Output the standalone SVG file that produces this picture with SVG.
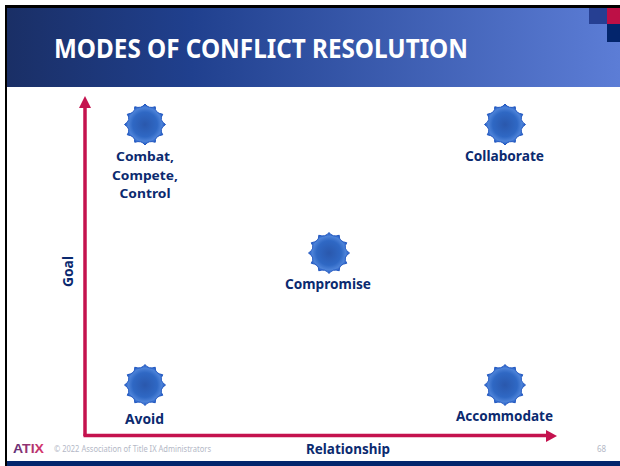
<svg xmlns="http://www.w3.org/2000/svg" width="620" height="466" viewBox="0 0 620 466">
<style>
.lbl{font-family:"Noto Sans","Liberation Sans",sans-serif;font-weight:700;font-size:14.500px;fill:#0b2a6f;text-anchor:middle}
.tight{font-size:13.200px}
.foot{font-family:"Noto Sans","Liberation Sans",sans-serif;font-size:8px;fill:#b4b8c6}
.ax{stroke:#c4124e;stroke-width:3.500;fill:none}
</style>
<defs>
<linearGradient id="hd" x1="0" x2="1" y1="0" y2="0"><stop offset="0" stop-color="#1a2f66"/><stop offset="0.3" stop-color="#20408e"/><stop offset="1" stop-color="#5c7dd6"/></linearGradient>
<linearGradient id="lg" x1="0" x2="1" y1="0" y2="0"><stop offset="0" stop-color="#5a2f78"/><stop offset="1" stop-color="#e0356a"/></linearGradient>
<radialGradient id="st"><stop offset="0" stop-color="#2a58ad"/><stop offset="0.6" stop-color="#2f68c4"/><stop offset="0.82" stop-color="#4c82d8"/><stop offset="1" stop-color="#1f58c4"/></radialGradient>
<path id="star" fill="url(#st)" stroke="#1f56c0" stroke-width="1" d="M0-20.500Q3.500-15.500 10.250-17.750Q9.500-11.500 17.750-10.250Q13.500-4.500 20.500 0Q13.500 4.500 17.750 10.250Q9.500 11.500 10.250 17.750Q3.500 15.500 0 20.500Q-3.500 15.500-10.250 17.750Q-9.500 11.500-17.750 10.250Q-13.500 4.500-20.500 0Q-13.500-4.500-17.750-10.250Q-9.500-11.500-10.250-17.750Q-3.500-15.500 0-20.500Z"/>
</defs>
<rect width="620" height="466" fill="#fff"/>
<g id="frame">
<rect x="7" y="8" width="613" height="79" fill="url(#hd)"/>
<rect x="5" y="5" width="615" height="3" fill="#000"/>
<rect x="5" y="5" width="2" height="461" fill="#000"/>
<rect x="7" y="461" width="613" height="5" fill="#03256c"/>
<rect x="589" y="8" width="18" height="16" fill="#263f92"/>
<rect x="607" y="8" width="13" height="16" fill="#bd1046"/>
<rect x="607" y="24" width="13" height="18" fill="#03256c"/>
<text x="54" y="58" font-family="Noto Sans,Liberation Sans,sans-serif" font-weight="700" font-size="26" fill="#fff" textLength="414" lengthAdjust="spacingAndGlyphs">MODES OF CONFLICT RESOLUTION</text>
</g>
<g id="connectors">
<path class="ax" d="M85 436V106"/>
<path class="ax" d="M83.500 435.500H546"/>
<polygon points="85,96 91,108 79,108" fill="#c4124e"/>
<polygon points="557,436 546,430 546,442" fill="#c4124e"/>
</g>
<g id="combat"><use href="#star" x="145" y="124.500"/><text class="lbl tight" x="145" y="161" textLength="58" lengthAdjust="spacingAndGlyphs">Combat,</text><text class="lbl tight" x="145" y="179.500" textLength="66" lengthAdjust="spacingAndGlyphs">Compete,</text><text class="lbl tight" x="145" y="198" textLength="51" lengthAdjust="spacingAndGlyphs">Control</text></g>
<g id="collaborate"><use href="#star" x="505" y="124.500"/><text class="lbl" x="504.500" y="161" textLength="79" lengthAdjust="spacingAndGlyphs">Collaborate</text></g>
<g id="compromise"><use href="#star" x="329" y="253"/><text class="lbl" x="328" y="289" textLength="86" lengthAdjust="spacingAndGlyphs">Compromise</text></g>
<g id="avoid"><use href="#star" x="145" y="385"/><text class="lbl" x="144.500" y="424" textLength="39" lengthAdjust="spacingAndGlyphs">Avoid</text></g>
<g id="accommodate"><use href="#star" x="505" y="385"/><text class="lbl" x="504.500" y="421" textLength="97" lengthAdjust="spacingAndGlyphs">Accommodate</text></g>
<g id="axis-labels">
<text class="lbl" transform="translate(73 271.500) rotate(-90)" textLength="31" lengthAdjust="spacingAndGlyphs">Goal</text>
<text class="lbl" x="348" y="454" textLength="84" lengthAdjust="spacingAndGlyphs">Relationship</text>
</g>
<g id="footer">
<text x="13" y="453" font-family="Liberation Sans,sans-serif" font-weight="700" font-size="12.500" fill="url(#lg)" textLength="31" lengthAdjust="spacingAndGlyphs">ATIX</text>
<text class="foot" x="54" y="452" textLength="157" lengthAdjust="spacingAndGlyphs">© 2022 Association of Title IX Administrators</text>
<text class="foot" x="597" y="452">68</text>
</g>
</svg>
